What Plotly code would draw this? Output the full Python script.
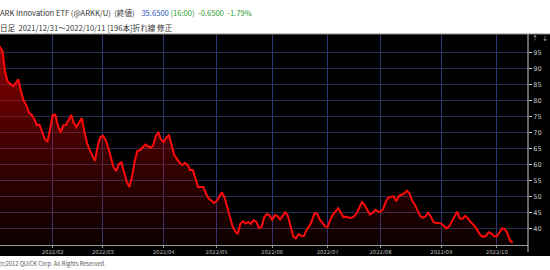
import plotly.graph_objects as go
import pandas as pd

# ---- data ----
holidays = ['2022-01-17', '2022-02-21', '2022-04-15', '2022-05-30',
            '2022-06-20', '2022-07-04', '2022-09-05']
dates = [d.strftime('%Y-%m-%d') for d in
         pd.bdate_range('2021-12-31', '2022-10-11', freq='C', holidays=holidays)]

closes = [
    95.5, 96.8, 95.5, 88.8, 85.9, 85.2, 84.5, 85.5, 86.6, 82.8,
    80.0, 78.6, 76.3, 75.6, 74.3, 72.3, 72.5, 70.3, 68.0, 67.1,
    71.3, 75.5, 75.6, 72.1, 70.0, 72.3, 72.4, 73.8, 75.5, 73.0,
    71.7, 73.2, 74.6, 70.2, 66.8, 64.5, 62.6, 61.2, 65.8, 68.6,
    69.0, 67.7, 65.4, 61.9, 59.2, 58.0, 60.2, 60.7, 58.0, 54.7,
    53.0, 56.2, 61.0, 64.3, 64.5, 65.5, 66.3, 65.8, 65.3, 66.0,
    69.0, 70.0, 67.8, 67.0, 68.5, 69.2, 65.6, 63.0, 61.8, 60.5,
    59.9, 60.5, 60.0, 58.3, 58.3, 55.3, 53.0, 53.0, 53.0, 50.9,
    49.4, 48.8, 48.0, 48.6, 49.8, 51.4, 49.8, 46.6, 43.4, 40.8,
    39.2, 38.3, 41.5, 42.3, 41.6, 42.1, 41.5, 42.7, 42.2, 40.2,
    40.5, 43.5, 44.6, 44.2, 42.7, 44.2, 44.0, 42.9, 44.0, 45.2,
    43.9, 40.3, 37.5, 37.0, 38.3, 37.8, 37.7, 39.6, 40.7, 42.3,
    44.8, 44.7, 42.9, 41.8, 40.8, 40.5, 42.8, 44.4, 45.3, 46.4,
    45.0, 43.6, 43.8, 43.4, 43.4, 43.8, 44.8, 46.8, 48.3, 47.4,
    45.9, 44.4, 44.9, 45.9, 45.4, 45.3, 46.1, 48.4, 49.8, 49.9,
    50.1, 48.6, 50.3, 50.6, 51.1, 51.9, 51.0, 48.7, 47.5, 45.7,
    44.0, 43.4, 43.8, 45.0, 43.9, 42.1, 41.8, 41.8, 41.6, 40.8,
    40.1, 40.8, 42.4, 43.9, 45.3, 43.2, 43.1, 44.0, 43.3, 42.2,
    41.4, 40.4, 39.0, 37.8, 37.4, 37.9, 38.9, 38.5, 37.6, 37.6,
    38.9, 40.1, 39.9, 38.6, 36.3, 35.65,
]
assert len(dates) == 196 and len(closes) == 196

month_labels = []
month_idx = []
for i, d in enumerate(dates):
    lab = d[:7].replace('-', '/')
    if d.startswith('2022') and lab not in month_labels:
        month_labels.append(lab)
        month_idx.append(i)
y_ticks = [40, 45, 50, 55, 60, 65, 70, 75, 80, 85, 90, 95]
x_pos = list(range(len(dates)))   # one slot per trading day

# ---- geometry helpers ----
W, H = 550, 270
ML, MR, MT, MB = 0, 22, 34, 25
PW, PH = W - ML - MR, H - MT - MB


def px(x):
    return (x - ML) / PW


def py(y):
    return (H - MB - y) / PH


fig = go.Figure()
fig.add_trace(go.Scatter(
    x=x_pos, y=closes, mode='lines', customdata=dates,
    line=dict(color='#ff0a0a', width=2),
    fill='tozeroy',
    fillgradient=dict(type='vertical', start=35, stop=97,
                      colorscale=[[0, 'rgba(255,0,0,0.05)'],
                                  [0.5, 'rgba(255,0,0,0.25)'],
                                  [1, 'rgba(255,0,0,0.55)']]),
    hoverinfo='skip', showlegend=False,
))

jp = 'Noto Sans CJK JP'
annotations = []


def txt(x, y, s, color, size, fam=jp):
    annotations.append(dict(x=px(x), y=py(y), xref='paper', yref='paper',
                            text=s, showarrow=False, xanchor='left',
                            yanchor='middle', borderpad=0,
                            font=dict(family=fam, size=size, color=color)))


line1 = ("ARK Innovation ETF (@ARKK/U)&nbsp;&nbsp;(終値)&nbsp;&nbsp;&nbsp;&nbsp;"
         "<span style='color:#2a55b8'>35.6500</span>&nbsp;"
         "<span style='color:#2e9a2e'>(16:00)&nbsp;&nbsp;-0.6500&nbsp;&nbsp;-1.79%</span>")
line2 = "日足&nbsp;&nbsp;2021/12/31～2022/10/11 [196本]折れ線&nbsp;修正"
txt(-1, 12.5, line1, '#333333', 7.6)
txt(-1, 27.5, line2, '#333333', 7.6)
txt(-2, 263, '(c)2012 QUICK Corp. All Rights Reserved.', '#555555', 5.7)
txt(531, 37.5, '↑', '#cccccc', 6)
txt(541, 37.5, '↓', '#cccccc', 6)

shapes = [
    dict(type='rect', xref='paper', yref='paper', layer='below',
         x0=px(0), x1=px(W), y0=py(256), y1=py(MT),
         fillcolor='#000000', line=dict(width=0)),
    dict(type='line', xref='paper', yref='paper',
         x0=px(0), x1=px(W), y0=py(MT), y1=py(MT),
         line=dict(color='#8a8a8a', width=1)),
    dict(type='line', xref='paper', yref='paper',
         x0=px(528), x1=px(528), y0=py(252), y1=py(MT),
         line=dict(color='#d0d0d0', width=1)),
]

fig.update_layout(
    width=W, height=H,
    margin=dict(l=ML, r=MR, t=MT, b=MB),
    paper_bgcolor='#ffffff', plot_bgcolor='#000000',
    showlegend=False,
    annotations=annotations, shapes=shapes,
    xaxis=dict(type='linear', range=[1.06, 200.8],
               tickmode='array', tickvals=month_idx, ticktext=month_labels,
               showgrid=True, gridcolor='#2a3676', gridwidth=1,
               showline=True, linecolor='#9a9a9a', linewidth=1,
               ticks='outside', ticklen=2, tickcolor='#9a9a9a',
               tickfont=dict(family='DejaVu Sans', size=5.3, color='#bbbbbb'),
               zeroline=False, fixedrange=True),
    yaxis=dict(side='right', range=[34.9, 100.8],
               tickmode='array', tickvals=y_ticks,
               showgrid=True, gridcolor='#262d4c', gridwidth=1,
               showline=False,
               ticks='outside', ticklen=3, tickcolor='#cccccc',
               tickfont=dict(family='DejaVu Sans', size=6.5, color='#c8c8c8'),
               zeroline=False, fixedrange=True),
)

fig.write_html('out.html')
